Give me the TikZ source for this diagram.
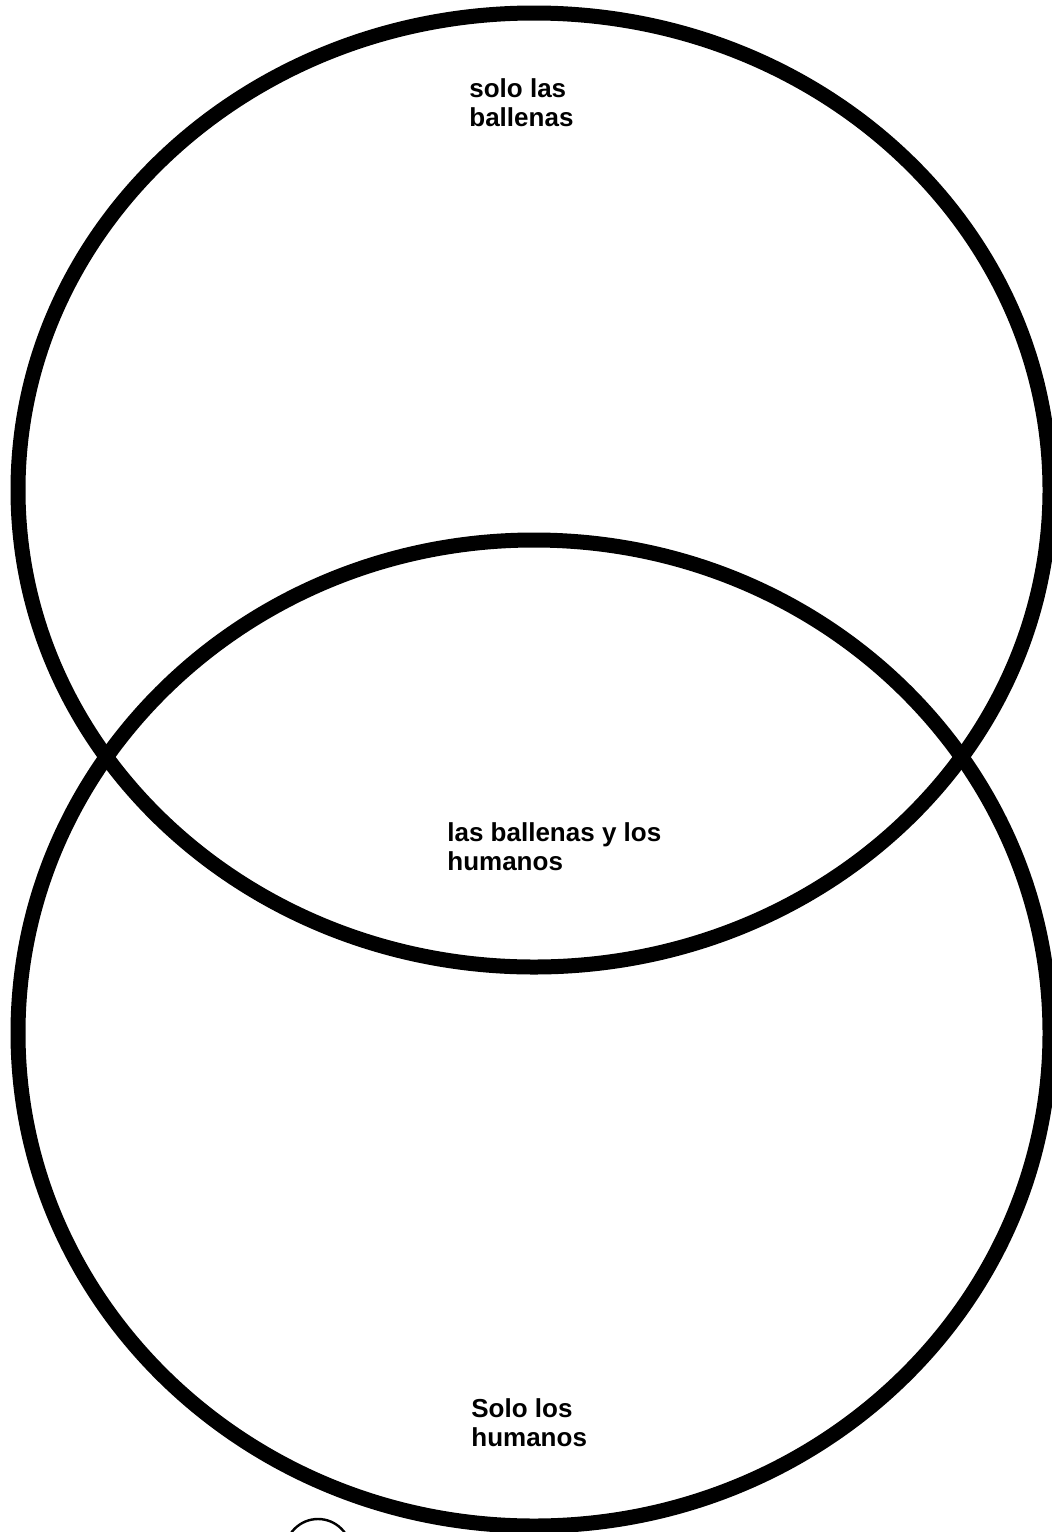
\documentclass[tikz,border=0pt]{standalone}
\usepackage{fontspec}
\setmainfont{Liberation Sans}
\begin{document}
\begin{tikzpicture}[x=0.5pt,y=-0.5pt,
  ring/.style={draw=black,line width=7.5pt},
  lbl/.style={anchor=north west,inner sep=0pt,align=left,font=\fontsize{13pt}{14.5pt}\selectfont\bfseries}]
\useasboundingbox (0,0) rectangle (1052,1532);
\fill[white] (0,0) rectangle (1052,1532);
\begin{scope}
\clip (0,0) rectangle (1052,1532);
\draw[ring] (534,490) ellipse [x radius=516, y radius=477];
\draw[ring] (534,1033) ellipse [x radius=516, y radius=493];
\draw[black,line width=1.2pt] (318,1552) circle [radius=33];
\end{scope}
\node[lbl] (whales) at (469,78) {solo las\\ballenas};
\node[lbl] (both) at (447,822) {las ballenas y los\\humanos};
\node[lbl] (humans) at (471,1398) {Solo los\\humanos};
\end{tikzpicture}
\end{document}
